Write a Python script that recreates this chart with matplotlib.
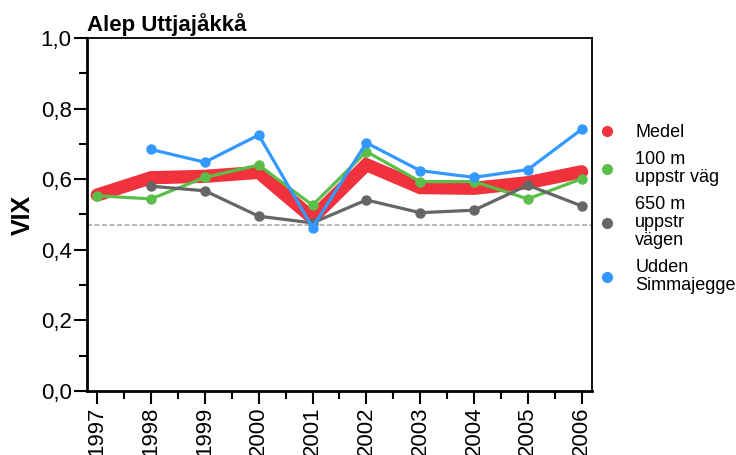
import matplotlib
matplotlib.use("Agg")
import matplotlib.pyplot as plt
import numpy as np
from matplotlib.ticker import MultipleLocator, FuncFormatter
from matplotlib.lines import Line2D

plt.rcParams['font.family'] = ['Liberation Sans', 'DejaVu Sans']

years = [1997, 1998, 1999, 2000, 2001, 2002, 2003, 2004, 2005, 2006]
medel = [0.555, 0.604, 0.608, 0.619, 0.490, 0.641, 0.576, 0.574, 0.590, 0.621]
v100 = [0.553, 0.544, 0.605, 0.640, 0.526, 0.678, 0.593, 0.593, 0.544, 0.601]
v650 = [np.nan, 0.580, 0.567, 0.495, 0.476, 0.541, 0.505, 0.512, 0.583, 0.524]
udden = [np.nan, 0.684, 0.648, 0.725, 0.463, 0.703, 0.624, 0.605, 0.627, 0.741]
ref_line = 0.47

labels = ["Medel", "100 m\nuppstr väg", "650 m\nuppstr\nvägen", "Udden\nSimmajegge"]
colors = ["#EF323B", "#5BBE48", "#666666", "#3399FF"]

fig = plt.figure(figsize=(7.36, 4.55), dpi=100)
ax = fig.add_axes([0.1182, 0.1407, 0.686, 0.776])

ax.axhline(ref_line, color="#aaaaaa", lw=1.2, ls=(0, (3, 1.5)), zorder=1)

ax.plot(years, medel, color=colors[0], lw=9.5, solid_capstyle='round',
        solid_joinstyle='miter', zorder=2)
ax.plot(years, v100, color=colors[1], lw=2.3, marker='o', ms=6.5, zorder=3)
ax.plot(years, v650, color=colors[2], lw=2.3, marker='o', ms=6.5, zorder=3)
ax.plot(years, udden, color=colors[3], lw=2.3, marker='o', ms=6.5, zorder=4)

ax.set_xlim(1996.81, 2006.19)
ax.set_ylim(0, 1.0)
ax.xaxis.set_major_locator(MultipleLocator(1))
ax.xaxis.set_minor_locator(MultipleLocator(0.5))
ax.yaxis.set_major_locator(MultipleLocator(0.2))
ax.yaxis.set_minor_locator(MultipleLocator(0.1))
ax.yaxis.set_major_formatter(FuncFormatter(lambda v, p: f"{v:.1f}".replace('.', ',')))
ax.xaxis.set_major_formatter(FuncFormatter(lambda v, p: f"{int(round(v))}"))
ax.tick_params(axis='both', which='major', length=9.5, width=1.5, labelsize=16, direction='out', pad=1.5)
ax.tick_params(axis='both', which='minor', length=6, width=1.5, direction='out')
plt.setp(ax.get_xticklabels(), rotation=90)

for s in ['left', 'bottom']:
    ax.spines[s].set_linewidth(2)
for s in ['top', 'right']:
    ax.spines[s].set_linewidth(1.3)

ax.set_ylabel("VIX", fontsize=18, fontweight='bold', labelpad=4)
ax.set_title("Alep Uttjajåkkå", loc='left', fontsize=16, fontweight='bold', pad=5)

handles = [Line2D([], [], ls='none', marker='o', ms=7, color=c) for c in colors]
leg = ax.legend(handles, labels, loc='center left', bbox_to_anchor=(1.0, 0.515),
                frameon=False, fontsize=13, handletextpad=1.05, labelspacing=0.55,
                borderaxespad=0.0, borderpad=0.35, handlelength=1.0)
for t in leg.get_texts():
    t.set_linespacing(1.07)

fig.savefig("out.png", dpi=100)
